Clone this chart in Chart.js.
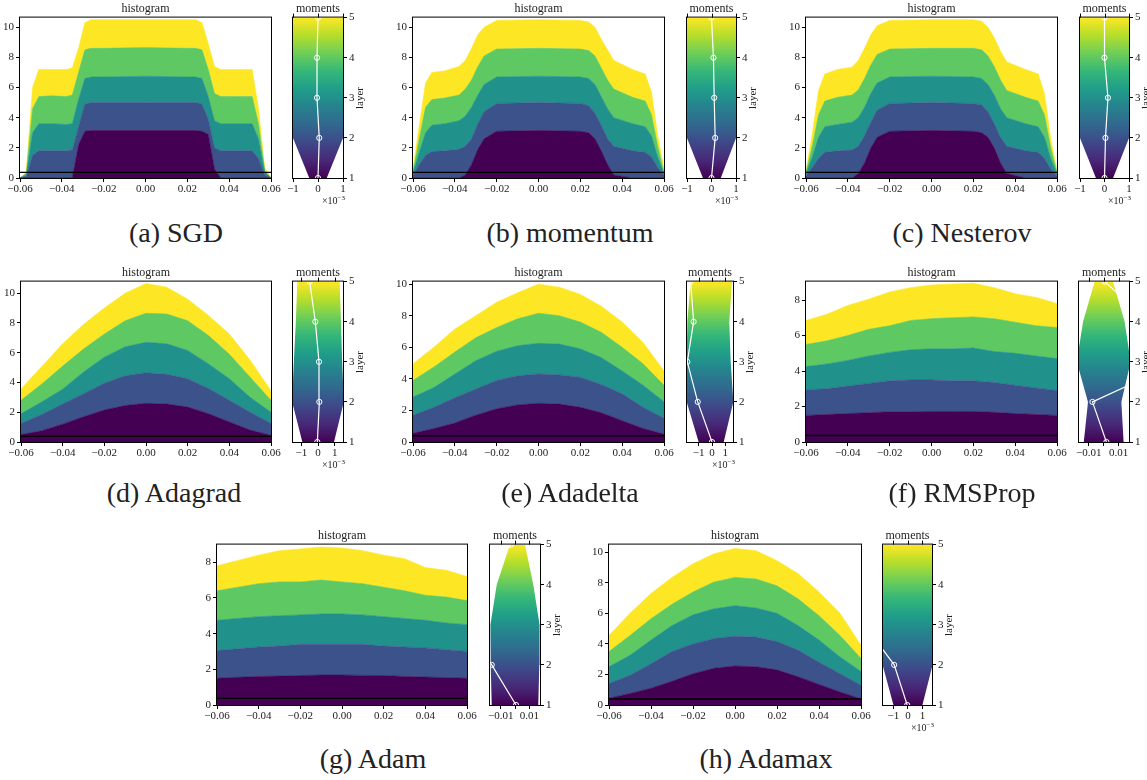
<!DOCTYPE html>
<html>
<head>
<meta charset="utf-8">
<script src="https://cdn.jsdelivr.net/npm/chart.js@4.4.1/dist/chart.umd.min.js"></script>
<style>
  body { margin: 0; background: #fff; }
  #fig { position: relative; width: 1147px; height: 780px; overflow: hidden; font-family: "Liberation Serif", serif; color: #222; }
  #fig canvas { position: absolute; }
  .lbl { position: absolute; white-space: nowrap; }
  .lbl sup { font-size: 7px; vertical-align: 4px; }
</style>
</head>
<body>
<div id="fig"></div>
<script>
const LAYERS = [1, 2, 3, 4, 5]
const LAYER_COLORS = ["#440154", "#3b528b", "#21918c", "#5ec962", "#fde725"]
const VIRIDIS = ["#440154", "#482878", "#3e4989", "#31688e", "#26828e", "#1f9e89", "#35b779", "#6ece58", "#b5de2b", "#fde725"]

const histXTicks = [-0.06, -0.04, -0.02, 0, 0.02, 0.04, 0.06]
const histYTicks10 = [0, 2, 4, 6, 8, 10]
const histYTicks8 = [0, 2, 4, 6, 8]
const momTicksE3 = [-1, 0, 1]
const momTicksWide = [-0.01, 0, 0.01]

const captions = ["(a) SGD", "(b) momentum", "(c) Nesterov", "(d) Adagrad", "(e) Adadelta", "(f) RMSProp", "(g) Adam", "(h) Adamax"]

// bin centres: dense around the shoulders for the plain SGD family, regular for the adaptive ones
const binsShoulder = [-0.06, -0.057, -0.054, -0.051, -0.045, -0.038, -0.035, -0.032, -0.029, -0.026, -0.02, 0, 0.02, 0.024, 0.027, 0.03, 0.033, 0.036, 0.045, 0.051, 0.054, 0.057, 0.06]
const binsBell = [-0.06, -0.05, -0.04, -0.03, -0.02, -0.01, 0, 0.01, 0.02, 0.03, 0.04, 0.05, 0.06]

// stacked histogram tops, one row per layer (1 = bottom)
const sgdTops = [
  [0, 0, 0, 0, 0, 0, 0, 2.2, 3.1, 3.15, 3.15, 3.15, 3.15, 3.15, 3.1, 2.9, 0.6, 0, 0, 0, 0, 0, 0],
  [0, 0.1, 1.5, 1.8, 1.8, 1.8, 1.85, 3.4, 4.9, 5.0, 5.0, 5.0, 5.0, 5.0, 4.9, 3.9, 2.0, 1.8, 1.8, 1.8, 1.3, 0.2, 0],
  [0, 0.2, 3.0, 3.6, 3.6, 3.55, 3.6, 5.2, 6.6, 6.7, 6.7, 6.75, 6.7, 6.7, 6.6, 5.4, 3.8, 3.6, 3.6, 3.6, 2.6, 0.4, 0],
  [0, 0.3, 4.6, 5.4, 5.45, 5.4, 5.5, 7.0, 8.5, 8.6, 8.6, 8.65, 8.6, 8.6, 8.5, 7.2, 5.6, 5.4, 5.4, 5.4, 3.6, 0.5, 0],
  [0, 0.4, 6.0, 7.2, 7.2, 7.2, 7.3, 8.6, 10.3, 10.5, 10.5, 10.5, 10.5, 10.5, 10.3, 8.9, 7.4, 7.2, 7.2, 7.2, 4.6, 0.7, 0]
]
const momentumTops = [
  [0, 0, 0, 0, 0, 0, 0.2, 0.9, 1.9, 2.6, 3.1, 3.15, 3.1, 3.0, 2.6, 1.8, 0.9, 0.2, 0, 0, 0, 0, 0],
  [0.2, 0.9, 1.5, 1.75, 1.8, 1.9, 2.1, 2.6, 3.6, 4.4, 4.95, 5.0, 4.95, 4.8, 4.3, 3.5, 2.6, 2.1, 1.8, 1.7, 1.4, 0.7, 0.2],
  [0.35, 1.7, 3.0, 3.5, 3.6, 3.8, 4.1, 4.7, 5.5, 6.2, 6.7, 6.75, 6.7, 6.6, 6.2, 5.4, 4.6, 4.0, 3.6, 3.4, 2.8, 1.4, 0.3],
  [0.45, 2.6, 4.7, 5.2, 5.3, 5.5, 5.9, 6.5, 7.4, 8.1, 8.55, 8.6, 8.55, 8.45, 8.1, 7.3, 6.5, 5.9, 5.35, 5.1, 4.2, 2.1, 0.4],
  [0.6, 3.5, 6.3, 7.0, 7.1, 7.4, 7.8, 8.6, 9.5, 10.0, 10.45, 10.5, 10.45, 10.35, 10.0, 9.2, 8.5, 7.8, 7.2, 6.9, 5.7, 2.8, 0.6]
]
const nesterovTops = [
  [0, 0, 0, 0, 0, 0, 0.3, 1.0, 2.0, 2.7, 3.1, 3.15, 3.1, 3.0, 2.7, 2.0, 1.0, 0.3, 0, 0, 0, 0, 0],
  [0.15, 0.7, 1.3, 1.7, 1.8, 1.85, 2.1, 2.8, 3.7, 4.5, 4.95, 5.0, 4.95, 4.85, 4.4, 3.6, 2.7, 2.1, 1.8, 1.7, 1.3, 0.6, 0.15],
  [0.3, 1.4, 2.7, 3.4, 3.55, 3.7, 4.0, 4.7, 5.6, 6.3, 6.7, 6.75, 6.7, 6.6, 6.2, 5.5, 4.6, 4.0, 3.6, 3.4, 2.7, 1.3, 0.3],
  [0.4, 2.1, 4.2, 5.1, 5.35, 5.5, 5.85, 6.6, 7.5, 8.2, 8.55, 8.6, 8.6, 8.5, 8.1, 7.4, 6.5, 5.8, 5.35, 5.1, 4.2, 2.0, 0.4],
  [0.5, 2.9, 5.8, 6.9, 7.2, 7.35, 7.8, 8.6, 9.5, 10.1, 10.45, 10.5, 10.5, 10.4, 10.0, 9.3, 8.4, 7.7, 7.2, 6.9, 5.6, 2.6, 0.5]
]
const adagradTops = [
  [0.5, 0.75, 1.2, 1.7, 2.15, 2.45, 2.6, 2.55, 2.35, 1.9, 1.35, 0.8, 0.45],
  [1.25, 1.85, 2.55, 3.25, 3.95, 4.45, 4.65, 4.55, 4.25, 3.6, 2.8, 2.0, 1.25],
  [1.9, 2.7, 3.55, 4.7, 5.7, 6.4, 6.7, 6.6, 6.15, 5.25, 4.25, 3.0, 2.0],
  [2.8, 3.9, 5.1, 6.25, 7.25, 8.15, 8.65, 8.6, 8.15, 7.15, 5.9, 4.35, 2.8],
  [3.57, 5.07, 6.6, 7.9, 9.0, 10.0, 10.65, 10.4, 9.6, 8.5, 7.25, 5.5, 3.45]
]
const adadeltaTops = [
  [0.55, 0.85, 1.2, 1.7, 2.1, 2.35, 2.45, 2.4, 2.2, 1.85, 1.35, 0.85, 0.5],
  [1.7, 2.2, 2.8, 3.35, 3.9, 4.2, 4.3, 4.25, 4.1, 3.65, 3.05, 2.2, 1.5],
  [2.85, 3.45, 4.3, 5.15, 5.75, 6.1, 6.25, 6.2, 5.9, 5.35, 4.5, 3.6, 2.55],
  [3.9, 4.75, 5.7, 6.6, 7.25, 7.8, 8.15, 8.0, 7.6, 6.95, 6.0, 4.95, 3.6],
  [4.95, 6.0, 7.15, 8.0, 8.85, 9.45, 10.0, 9.8, 9.35, 8.6, 7.6, 6.3, 4.5]
]
const rmspropTops = [
  [1.5, 1.55, 1.6, 1.65, 1.7, 1.7, 1.72, 1.72, 1.72, 1.67, 1.6, 1.55, 1.5],
  [2.95, 3.0, 3.15, 3.3, 3.45, 3.5, 3.5, 3.45, 3.45, 3.35, 3.2, 3.05, 2.9],
  [4.25, 4.4, 4.6, 4.85, 5.05, 5.2, 5.25, 5.25, 5.3, 5.1, 5.0, 4.85, 4.7],
  [5.5, 5.7, 6.0, 6.35, 6.55, 6.85, 6.95, 7.0, 7.05, 6.95, 6.75, 6.55, 6.45],
  [6.85, 7.2, 7.7, 8.05, 8.45, 8.7, 8.85, 8.9, 8.95, 8.7, 8.35, 8.15, 7.8]
]
const adamTops = [
  [1.5, 1.55, 1.6, 1.62, 1.65, 1.68, 1.68, 1.66, 1.65, 1.6, 1.57, 1.53, 1.5],
  [3.05, 3.15, 3.25, 3.3, 3.4, 3.4, 3.4, 3.4, 3.3, 3.25, 3.2, 3.1, 3.0],
  [4.75, 4.85, 4.95, 5.0, 5.05, 5.1, 5.1, 5.05, 4.95, 4.85, 4.75, 4.6, 4.5],
  [6.4, 6.6, 6.8, 6.9, 6.9, 7.0, 6.9, 6.8, 6.6, 6.4, 6.15, 6.05, 5.85],
  [7.8, 8.1, 8.4, 8.65, 8.75, 8.85, 8.8, 8.65, 8.4, 8.2, 7.7, 7.55, 7.2]
]
const adamaxTops = [
  [0.45, 0.75, 1.1, 1.55, 2.05, 2.4, 2.55, 2.5, 2.3, 1.85, 1.35, 0.85, 0.4],
  [1.4, 1.95, 2.7, 3.5, 4.0, 4.35, 4.5, 4.45, 4.15, 3.6, 2.8, 2.05, 1.3],
  [2.5, 3.25, 4.25, 5.2, 5.9, 6.3, 6.5, 6.35, 6.0, 5.2, 4.25, 3.15, 2.2],
  [3.5, 4.55, 5.65, 6.6, 7.4, 8.05, 8.35, 8.25, 7.8, 6.95, 5.85, 4.55, 3.05],
  [4.55, 6.0, 7.3, 8.35, 9.25, 9.9, 10.25, 10.1, 9.45, 8.6, 7.4, 6.0, 3.9]
]

// horizontal reference level drawn across each histogram
const baseLevels = [0.37, 0.37, 0.37, 0.38, 0.4, 0.37, 0.37, 0.39]

// per-layer moments: mean and spread band (SGD family in units of 1e-3)
const sgdMean = [0, 0.05, -0.04, -0.04, 0]
const sgdLo = [-0.35, -1.0, -1.3, -1.4, -1.4]
const sgdHi = [0.35, 1.0, 1.3, 1.4, 1.4]
const momentumMean = [0, 0.15, 0.11, 0.08, 0]
const momentumLo = [-0.35, -1.0, -1.3, -1.4, -1.4]
const momentumHi = [0.38, 1.0, 1.3, 1.4, 1.4]
const nesterovMean = [0, 0.04, 0.14, 0, 0]
const nesterovLo = [-0.35, -1.0, -1.3, -1.4, -1.4]
const nesterovHi = [0.35, 1.0, 1.3, 1.4, 1.4]
const adagradMean = [-0.04, 0.08, 0.06, -0.16, -0.5]
const adagradLo = [-0.94, -1.55, -1.45, -1.33, -1.24]
const adagradHi = [0.96, 1.55, 1.45, 1.38, 1.3]
const adadeltaMean = [0, -1.07, -1.85, -1.38, -1.6]
const adadeltaLo = [-1.0, -1.9, -1.9, -1.85, -1.6]
const adadeltaHi = [0.88, 1.6, 1.4, 1.3, 1.5]
const rmspropMean = [0.0018, -0.0075, 0.0506, 0.03, 0.0007]
const rmspropLo = [-0.0133, -0.0105, -0.018, -0.0138, -0.006]
const rmspropHi = [0.0133, 0.0118, 0.018, 0.014, 0.0062]
const adamMean = [0.0007, -0.0163, -0.035, -0.0238, -0.003]
const adamLo = [-0.0163, -0.017, -0.0172, -0.0128, -0.0035]
const adamHi = [0.0163, 0.017, 0.0172, 0.0128, 0.007]
const adamaxMean = [-0.05, -0.95, -3.0, -3.5, -3.5]
const adamaxLo = [-1.0, -1.75, -1.9, -1.9, -1.9]
const adamaxHi = [1.0, 1.7, 1.9, 1.9, 1.9]

// plot rectangles [left, top, right, bottom] in page pixels
const frames = [
  { hist: [20, 17, 271, 178], ymax: 10.64, yt: histYTicks10, mom: [293, 17, 343, 178], mx: [-1, 1], mt: momTicksE3, sci: true, cap: [176, 219] },
  { hist: [413, 17, 664, 178], ymax: 10.64, yt: histYTicks10, mom: [687, 17, 736, 178], mx: [-1, 1], mt: momTicksE3, sci: true, cap: [570, 219] },
  { hist: [806, 17, 1057, 178], ymax: 10.64, yt: histYTicks10, mom: [1080, 17, 1129, 178], mx: [-1, 1], mt: momTicksE3, sci: true, cap: [962, 219] },
  { hist: [21, 281, 271, 442], ymax: 10.78, yt: histYTicks10, mom: [293, 281, 343, 442], mx: [-1.5, 1.5], mt: momTicksE3, sci: true, cap: [174, 479] },
  { hist: [413, 281, 664, 442], ymax: 10.16, yt: histYTicks10, mom: [687, 281, 733, 442], mx: [-1.875, 1.575], mt: momTicksE3, sci: true, cap: [570, 479] },
  { hist: [806, 281, 1057, 442], ymax: 9.04, yt: histYTicks8, mom: [1079, 281, 1129, 442], mx: [-0.0165, 0.0169], mt: momTicksWide, sci: false, cap: [962, 479] },
  { hist: [217, 544, 467, 705], ymax: 8.99, yt: histYTicks8, mom: [490, 544, 540, 705], mx: [-0.0175, 0.0175], mt: momTicksWide, sci: false, cap: [373, 745] },
  { hist: [609, 544, 861, 705], ymax: 10.5, yt: histYTicks10, mom: [883, 544, 932, 705], mx: [-1.72, 1.66], mt: momTicksE3, sci: true, cap: [766, 745] }
]

const series = [
  { xs: binsShoulder, tops: sgdTops, mean: sgdMean, lo: sgdLo, hi: sgdHi },
  { xs: binsShoulder, tops: momentumTops, mean: momentumMean, lo: momentumLo, hi: momentumHi },
  { xs: binsShoulder, tops: nesterovTops, mean: nesterovMean, lo: nesterovLo, hi: nesterovHi },
  { xs: binsBell, tops: adagradTops, mean: adagradMean, lo: adagradLo, hi: adagradHi },
  { xs: binsBell, tops: adadeltaTops, mean: adadeltaMean, lo: adadeltaLo, hi: adadeltaHi },
  { xs: binsBell, tops: rmspropTops, mean: rmspropMean, lo: rmspropLo, hi: rmspropHi },
  { xs: binsBell, tops: adamTops, mean: adamMean, lo: adamLo, hi: adamHi },
  { xs: binsBell, tops: adamaxTops, mean: adamaxMean, lo: adamaxLo, hi: adamaxHi }
]

const fig = document.getElementById("fig")
const tickFont = { family: "Liberation Serif", size: 11 }

function addCanvas(left, top, w, h) {
  const c = document.createElement("canvas")
  c.width = w
  c.height = h
  c.style.left = left + "px"
  c.style.top = top + "px"
  c.style.width = w + "px"
  c.style.height = h + "px"
  fig.appendChild(c)
  return c
}

function addText(html, css) {
  const d = document.createElement("div")
  d.className = "lbl"
  d.innerHTML = html
  Object.assign(d.style, css)
  fig.appendChild(d)
}

function minus(v, digits) {
  const s = Math.abs(v).toFixed(digits)
  return v < 0 ? "\u2212" + s : s
}

// box around the plot area, optional mirrored ticks on top
const framePlugin = {
  id: "frame",
  afterDatasetsDraw(chart, args, opts) {
    const { ctx, chartArea: a, scales } = chart
    ctx.save()
    ctx.strokeStyle = "#000"
    ctx.lineWidth = 1
    ctx.strokeRect(a.left - 0.5, a.top - 0.5, a.width + 1, a.height + 1)
    if (opts.topTicks) {
      ctx.beginPath()
      scales.x.ticks.forEach(t => {
        const px = Math.round(scales.x.getPixelForValue(t.value)) + 0.5
        ctx.moveTo(px, a.top)
        ctx.lineTo(px, a.top - 4)
      })
      ctx.stroke()
    }
    ctx.restore()
  }
}

function axis(extra) {
  return Object.assign({
    type: "linear",
    grid: { drawOnChartArea: false, drawTicks: true, tickLength: 4, color: "#000", lineWidth: 1 },
    border: { display: false },
    ticks: { font: tickFont, color: "#222", padding: 2, autoSkip: false, maxRotation: 0 }
  }, extra)
}

function viridisFill(context) {
  const chart = context.chart
  if (!chart.chartArea) return LAYER_COLORS[2]
  const ys = chart.scales.y
  const g = chart.ctx.createLinearGradient(0, ys.getPixelForValue(1), 0, ys.getPixelForValue(5))
  VIRIDIS.forEach((c, i) => g.addColorStop(i / (VIRIDIS.length - 1), c))
  return g
}

function drawHistogram(f, s, base) {
  const [L, T, R, B] = f.hist
  const ml = 30, mt = 8, mr = 18, mb = 22
  const canvas = addCanvas(L - ml, T - mt, R - L + ml + mr, B - T + mt + mb)

  const datasets = s.tops.map((row, k) => ({
    data: row.map((v, i) => ({ x: s.xs[i], y: v })),
    backgroundColor: LAYER_COLORS[k],
    borderColor: LAYER_COLORS[k],
    borderWidth: 0.6,
    pointRadius: 0,
    fill: k === 0 ? "origin" : "-1"
  }))
  datasets.push({
    data: [{ x: histXTicks[0], y: base }, { x: histXTicks[histXTicks.length - 1], y: base }],
    borderColor: "#000",
    borderWidth: 1.4,
    pointRadius: 0,
    fill: false,
    order: -1
  })

  new Chart(canvas, {
    type: "line",
    data: { datasets },
    plugins: [framePlugin],
    options: {
      responsive: false,
      animation: false,
      layout: { padding: { left: 0, top: mt, right: mr, bottom: 0 } },
      plugins: { legend: { display: false }, tooltip: { enabled: false }, frame: { topTicks: false } },
      scales: {
        x: axis({
          min: -0.06, max: 0.06,
          afterBuildTicks: sc => { sc.ticks = histXTicks.map(v => ({ value: v })) },
          afterFit: sc => { sc.height = mb },
          ticks: { font: tickFont, color: "#222", padding: 1, autoSkip: false, maxRotation: 0, callback: v => minus(v, 2) }
        }),
        y: axis({
          min: 0, max: f.ymax,
          afterBuildTicks: sc => { sc.ticks = f.yt.map(v => ({ value: v })) },
          afterFit: sc => { sc.width = ml },
          ticks: { font: tickFont, color: "#222", padding: 2, autoSkip: false, callback: v => String(v) }
        })
      }
    }
  })

  addText("histogram", { left: (L + R) / 2 + "px", top: T - 16 + "px", fontSize: "12px", lineHeight: "14px", transform: "translateX(-50%)" })
}

function drawMoments(f, s) {
  const [L, T, R, B] = f.mom
  const ml = 16, mt = 8, mr = 12, mb = 22
  const canvas = addCanvas(L - ml, T - mt, R - L + ml + mr, B - T + mt + mb)
  const wide = f.mt === momTicksWide
  const pts = arr => arr.map((v, i) => ({ x: v, y: LAYERS[i] }))

  new Chart(canvas, {
    type: "line",
    data: {
      datasets: [
        { data: pts(s.lo), borderWidth: 0, pointRadius: 0, fill: false },
        { data: pts(s.hi), borderWidth: 0, pointRadius: 0, fill: "-1", backgroundColor: viridisFill },
        {
          // mean per layer, drawn over the band
          data: pts(s.mean),
          borderColor: "#fff",
          borderWidth: 1.2,
          pointRadius: 2.6,
          pointBorderColor: "#fff",
          pointBorderWidth: 1,
          pointBackgroundColor: "rgba(0,0,0,0)",
          fill: false,
          order: -1
        }
      ]
    },
    plugins: [framePlugin],
    options: {
      indexAxis: "y",
      responsive: false,
      animation: false,
      layout: { padding: { left: ml, top: mt, right: 0, bottom: 0 } },
      plugins: { legend: { display: false }, tooltip: { enabled: false }, frame: { topTicks: true } },
      scales: {
        x: axis({
          min: f.mx[0], max: f.mx[1],
          afterBuildTicks: sc => { sc.ticks = f.mt.map(v => ({ value: v })) },
          afterFit: sc => { sc.height = mb },
          ticks: {
            font: tickFont, color: "#222", padding: 1, autoSkip: false, maxRotation: 0,
            callback: v => wide ? (v === 0 ? "" : minus(v, 2)) : minus(v, 0)
          }
        }),
        y: axis({
          position: "right",
          min: 1, max: 5,
          afterBuildTicks: sc => { sc.ticks = LAYERS.map(v => ({ value: v })) },
          afterFit: sc => { sc.width = mr },
          ticks: { font: tickFont, color: "#222", padding: 2, autoSkip: false, callback: v => String(v) }
        })
      }
    }
  })

  addText("moments", { left: (L + R) / 2 + "px", top: T - 16 + "px", fontSize: "12px", lineHeight: "14px", transform: "translateX(-50%)" })
  addText("layer", { left: R + 16 + "px", top: (T + B) / 2 + "px", fontSize: "11px", lineHeight: "12px", transform: "translate(-50%,-50%) rotate(-90deg)" })
  if (f.sci) {
    addText("\u00d710<sup>\u22123</sup>", { left: R + 2 + "px", top: B + 14 + "px", fontSize: "10px", lineHeight: "12px", transform: "translateX(-100%)" })
  }
}

frames.forEach((f, i) => {
  drawHistogram(f, series[i], baseLevels[i])
  drawMoments(f, series[i])
  addText(captions[i], { left: f.cap[0] + "px", top: f.cap[1] + "px", fontSize: "28px", lineHeight: "28px", transform: "translateX(-50%)" })
})
</script>
</body>
</html>
